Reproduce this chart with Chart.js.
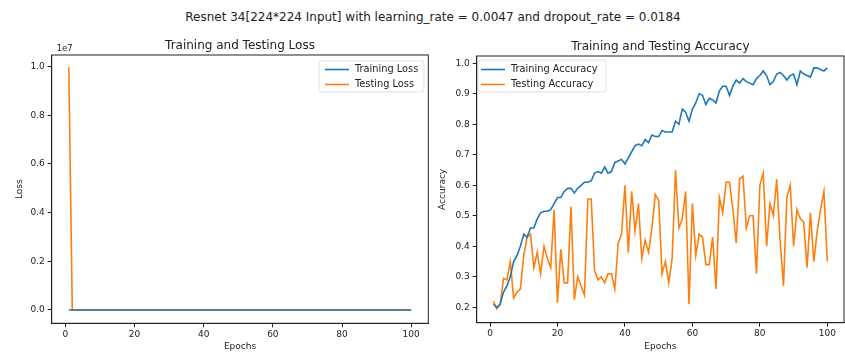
<!DOCTYPE html>
<html>
<head>
<meta charset="utf-8">
<script src="https://cdn.jsdelivr.net/npm/chart.js@4"></script>
<style>
  body { margin: 0; background: #fff; width: 845px; height: 356px; position: relative; overflow: hidden; }
  canvas { position: absolute; top: 0; }
  #suptitle { position: absolute; left: 0; width: 866px; top: 10px; text-align: center;
    font: 12px "DejaVu Sans", sans-serif; color: #222; line-height: 14px; }
</style>
</head>
<body>
<div id="suptitle">Resnet 34[224*224 Input] with learning_rate = 0.0047 and dropout_rate = 0.0184</div>
<canvas id="lossChart" width="430" height="356" style="left:0"></canvas>
<canvas id="accChart" width="415" height="356" style="left:430px"></canvas>
<script>
// data
const epochs = Array.from({ length: 100 }, (_, i) => i + 1);
const xTicks = [0, 20, 40, 60, 80, 100];
const lossTicks = [0, 2000000, 4000000, 6000000, 8000000, 10000000];
const accTicks = [0.2, 0.3, 0.4, 0.5, 0.6, 0.7, 0.8, 0.9, 1.0];

const trainLoss = [
  2.41, 2.05, 1.98, 1.86, 1.79, 1.71, 1.62, 1.55, 1.49, 1.42,
  1.40, 1.35, 1.33, 1.27, 1.22, 1.20, 1.19, 1.17, 1.12, 1.08,
  1.07, 1.03, 1.00, 0.99, 1.02, 0.98, 0.95, 0.93, 0.92, 0.91,
  0.86, 0.85, 0.86, 0.82, 0.85, 0.84, 0.78, 0.77, 0.76, 0.79,
  0.75, 0.71, 0.67, 0.66, 0.67, 0.63, 0.65, 0.60, 0.61, 0.61,
  0.57, 0.58, 0.58, 0.58, 0.51, 0.53, 0.43, 0.45, 0.51, 0.43,
  0.38, 0.31, 0.32, 0.38, 0.34, 0.35, 0.37, 0.27, 0.23, 0.23,
  0.30, 0.23, 0.18, 0.20, 0.16, 0.18, 0.19, 0.20, 0.16, 0.13,
  0.09, 0.12, 0.19, 0.17, 0.11, 0.10, 0.12, 0.15, 0.12, 0.11,
  0.19, 0.09, 0.11, 0.12, 0.13, 0.06, 0.06, 0.07, 0.08, 0.06,
];
const testLoss = [
  9980000, 2.31, 2.28, 2.02, 2.10, 1.95, 2.41, 2.33, 2.26, 1.88,
  1.71, 1.69, 2.05, 1.90, 2.20, 1.80, 1.97, 2.07, 1.55, 2.76,
  1.92, 2.31, 2.35, 1.49, 2.90, 2.25, 2.49, 2.70, 1.42, 1.45,
  2.38, 2.62, 2.55, 2.80, 2.49, 2.52, 3.01, 1.98, 1.87, 1.39,
  2.22, 1.45, 1.83, 1.56, 2.31, 1.95, 2.22, 1.81, 1.51, 1.60,
  2.96, 2.60, 3.30, 2.55, 1.36, 2.04, 1.91, 1.62, 4.12, 1.70,
  2.48, 2.02, 2.10, 2.83, 2.87, 2.15, 3.45, 1.72, 1.93, 1.58,
  1.60, 2.01, 2.66, 1.57, 1.55, 2.30, 2.05, 2.09, 3.38, 1.66,
  1.52, 2.70, 1.90, 2.11, 1.64, 2.61, 3.52, 1.80, 1.68, 2.75,
  2.04, 2.21, 2.30, 3.18, 2.12, 3.05, 2.47, 2.08, 1.79, 3.10,
];
const trainAcc = [
  0.21, 0.20, 0.21, 0.25, 0.27, 0.30, 0.35, 0.37, 0.40, 0.44,
  0.43, 0.46, 0.46, 0.49, 0.51, 0.515, 0.515, 0.52, 0.54, 0.56,
  0.56, 0.58, 0.59, 0.59, 0.575, 0.59, 0.60, 0.61, 0.61, 0.615,
  0.64, 0.645, 0.64, 0.66, 0.64, 0.645, 0.675, 0.68, 0.685, 0.67,
  0.69, 0.71, 0.73, 0.735, 0.73, 0.75, 0.74, 0.765, 0.76, 0.76,
  0.78, 0.775, 0.775, 0.775, 0.81, 0.80, 0.85, 0.84, 0.81, 0.85,
  0.87, 0.90, 0.895, 0.865, 0.885, 0.88, 0.87, 0.91, 0.925, 0.925,
  0.895, 0.925, 0.945, 0.935, 0.95, 0.94, 0.935, 0.93, 0.95, 0.96,
  0.975, 0.96, 0.93, 0.94, 0.965, 0.97, 0.96, 0.945, 0.96, 0.965,
  0.93, 0.975, 0.965, 0.96, 0.955, 0.985, 0.985, 0.98, 0.975, 0.985,
];
const testAcc = [
  0.22, 0.195, 0.21, 0.295, 0.29, 0.35, 0.23, 0.25, 0.26, 0.37,
  0.43, 0.44, 0.33, 0.38, 0.31, 0.40, 0.36, 0.33, 0.52, 0.215,
  0.39, 0.28, 0.28, 0.53, 0.225, 0.30, 0.27, 0.24, 0.555, 0.555,
  0.32, 0.29, 0.30, 0.28, 0.31, 0.31, 0.26, 0.41, 0.44, 0.60,
  0.38, 0.58, 0.45, 0.54, 0.36, 0.42, 0.38, 0.46, 0.57, 0.55,
  0.31, 0.35, 0.28, 0.36, 0.65, 0.46, 0.49, 0.58, 0.21, 0.54,
  0.37, 0.44, 0.43, 0.34, 0.34, 0.43, 0.26, 0.56, 0.51, 0.61,
  0.61, 0.52, 0.41, 0.62, 0.63, 0.46, 0.50, 0.50, 0.31, 0.60,
  0.64, 0.40, 0.54, 0.50, 0.62, 0.42, 0.27, 0.56, 0.60, 0.40,
  0.52, 0.49, 0.48, 0.33, 0.51, 0.35, 0.45, 0.52, 0.58, 0.35,
];

const BLUE = "#1f77b4";
const ORANGE = "#ff7f0e";
const TXT = "#222";
const FONT = "DejaVu Sans";

function points(values) {
  return epochs.map((e, i) => ({ x: e, y: values[i] }));
}

// frame, subplot title, matplotlib-like legend, exponent label
const decor = {
  id: "decor",
  afterDraw(chart, args, opts) {
    const { ctx, chartArea: a } = chart;
    ctx.save();
    ctx.strokeStyle = TXT;
    ctx.lineWidth = 1;
    ctx.strokeRect(a.left, a.top, a.right - a.left, a.bottom - a.top);

    ctx.fillStyle = TXT;
    ctx.font = "12px " + FONT;
    ctx.textAlign = "center";
    ctx.textBaseline = "alphabetic";
    ctx.fillText(opts.title, (a.left + a.right) / 2, a.top - 6);

    if (opts.exponent) {
      ctx.font = "8.5px " + FONT;
      ctx.textAlign = "left";
      ctx.fillText(opts.exponent, a.left + 5, a.top - 4);
    }

    // legend
    const lg = opts.legend;
    ctx.fillStyle = "rgba(255,255,255,0.8)";
    ctx.strokeStyle = "rgba(0,0,0,0.12)";
    ctx.beginPath();
    ctx.roundRect(lg.box[0], lg.box[1], lg.box[2], lg.box[3], 3);
    ctx.fill();
    ctx.stroke();
    ctx.font = "9.8px " + FONT;
    ctx.textAlign = "left";
    ctx.textBaseline = "middle";
    chart.data.datasets.forEach((ds, i) => {
      const y = lg.y + i * 15;
      ctx.strokeStyle = ds.borderColor;
      ctx.lineWidth = 1.6;
      ctx.beginPath();
      ctx.moveTo(lg.x, y);
      ctx.lineTo(lg.x + 24, y);
      ctx.stroke();
      ctx.fillStyle = TXT;
      ctx.fillText(ds.label, lg.x + 30, y);
    });
    ctx.restore();
  },
};

function makeChart(el, cfg) {
  return new Chart(document.getElementById(el), {
    type: "line",
    data: {
      datasets: cfg.series.map((s) => ({
        label: s.label,
        data: points(s.values),
        borderColor: s.color,
        backgroundColor: s.color,
        borderWidth: 1.6,
        pointRadius: 0,
        tension: 0,
      })),
    },
    plugins: [decor],
    options: {
      responsive: false,
      animation: false,
      layout: { padding: cfg.padding },
      plugins: {
        legend: { display: false },
        tooltip: { enabled: false },
        decor: cfg.decor,
      },
      scales: {
        x: {
          type: "linear",
          min: -3.95,
          max: 104.95,
          afterBuildTicks: (s) => { s.ticks = xTicks.map((v) => ({ value: v })); },
          afterFit: (s) => { s.height = cfg.xHeight; },
          ticks: { font: { family: FONT, size: 9 }, color: TXT, padding: 2, maxRotation: 0, callback: (v) => String(v) },
          grid: { drawOnChartArea: false, tickLength: 4, color: TXT },
          border: { color: TXT },
          title: { display: true, text: "Epochs", font: { family: FONT, size: 9 }, color: TXT, padding: { top: 0, bottom: 4 } },
        },
        y: {
          min: cfg.yMin,
          max: cfg.yMax,
          afterBuildTicks: (s) => { s.ticks = cfg.yTicks.map((v) => ({ value: v })); },
          afterFit: (s) => { s.width = cfg.yWidth; },
          ticks: { font: { family: FONT, size: 9 }, color: TXT, padding: 3, callback: cfg.yFormat },
          grid: { drawOnChartArea: false, tickLength: 4, color: TXT },
          border: { color: TXT },
          title: { display: true, text: cfg.yTitle, font: { family: FONT, size: 9 }, color: TXT, padding: { top: cfg.yTitlePad, bottom: 0 } },
        },
      },
    },
  });
}

makeChart("lossChart", {
  series: [
    { label: "Training Loss", values: trainLoss, color: BLUE },
    { label: "Testing Loss", values: testLoss, color: ORANGE },
  ],
  padding: { top: 55, right: 1.7, left: 0, bottom: 0 },
  xHeight: 32.7,
  yWidth: 51.7,
  yMin: -549000,
  yMax: 10480000,
  yTicks: lossTicks,
  yFormat: (v) => (v / 1e7).toFixed(1),
  yTitle: "Loss",
  yTitlePad: 14,
  decor: {
    title: "Training and Testing Loss",
    exponent: "1e7",
    legend: { x: 325, y: 69.5, box: [319, 61, 105, 31] },
  },
});

makeChart("accChart", {
  series: [
    { label: "Training Accuracy", values: trainAcc, color: BLUE },
    { label: "Testing Accuracy", values: testAcc, color: ORANGE },
  ],
  padding: { top: 56, right: 1, left: 0, bottom: 0 },
  xHeight: 33.3,
  yWidth: 46.7,
  yMin: 0.1495,
  yMax: 1.024,
  yTicks: accTicks,
  yFormat: (v) => v.toFixed(1),
  yTitle: "Accuracy",
  yTitlePad: 7.6,
  decor: {
    title: "Training and Testing Accuracy",
    legend: { x: 51, y: 69.5, box: [48, 60, 128, 32] },
  },
});
</script>
</body>
</html>
